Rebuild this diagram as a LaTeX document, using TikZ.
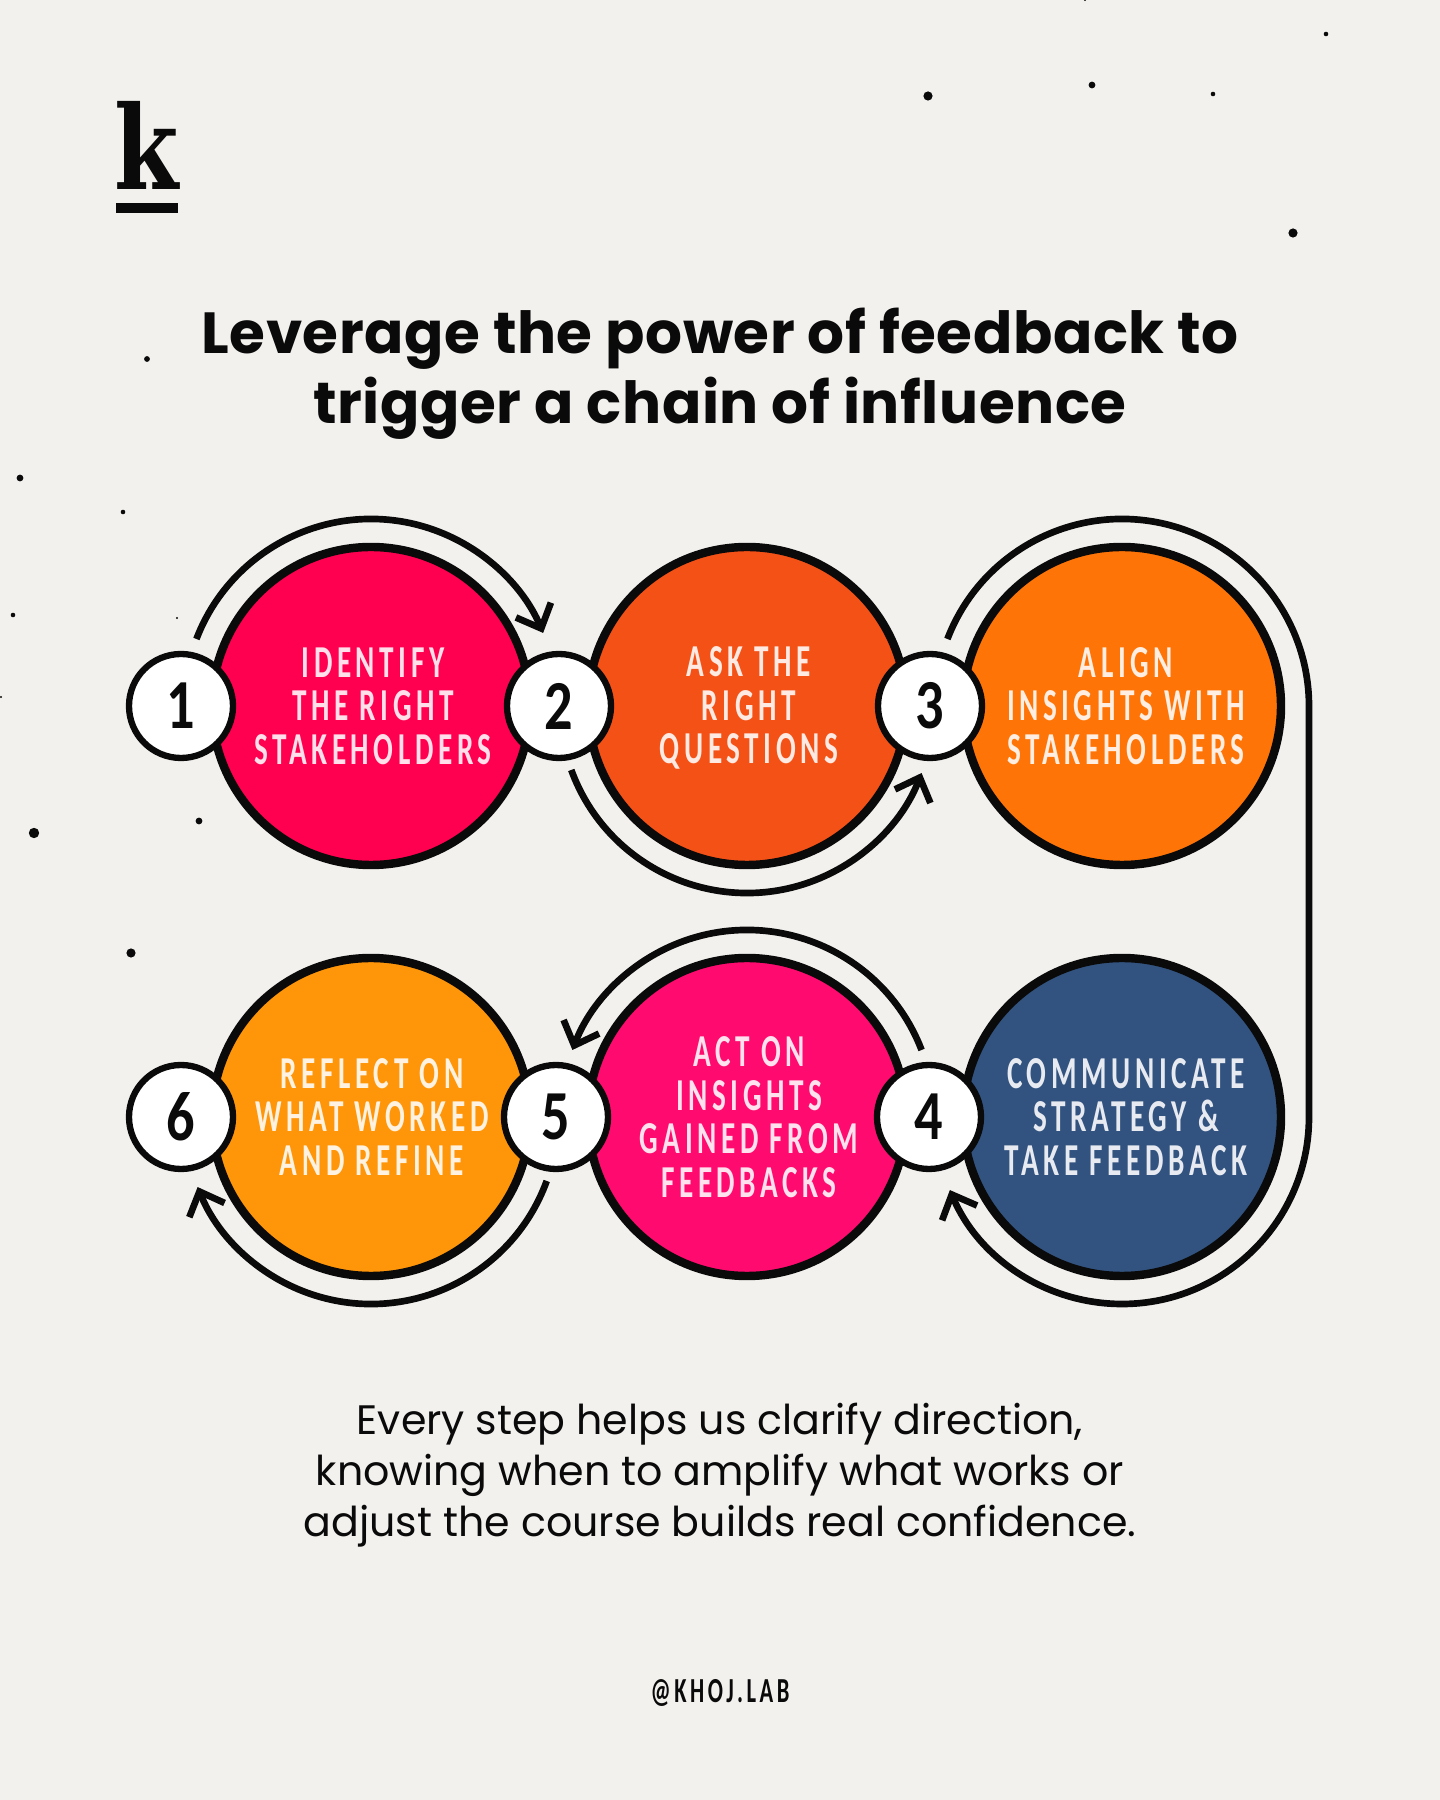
\documentclass[tikz,border=0pt]{standalone}
\usepackage{fontspec}
\setmainfont{Poppins}
\newfontfamily\titlefont[LetterSpace=1]{Poppins}
\newfontfamily\handfont[LetterSpace=10,FakeStretch=0.64]{Carlito}
\newfontfamily\numfont[FakeStretch=0.8]{Carlito}
\newfontfamily\logofont[FakeStretch=0.8]{DejaVu Serif}
\usetikzlibrary{arrows.meta}

\definecolor{paper}{HTML}{F3F1EE}
\definecolor{inkblack}{HTML}{0A0A0A}
\definecolor{stepred}{HTML}{FF0050}
\definecolor{steprust}{HTML}{F45117}
\definecolor{steporange}{HTML}{FF7406}
\definecolor{stepnavy}{HTML}{32537F}
\definecolor{steppink}{HTML}{FF0B6F}
\definecolor{stepamber}{HTML}{FF9508}

\tikzset{
  bigcircle/.style={circle,draw=inkblack,line width=2.4pt,fill=#1,minimum size=3.18cm,inner sep=0pt},
  steptext/.style={text=white!88!#1,align=center,inner sep=0pt,font=\handfont\bfseries\fontsize{13}{12.4}\selectfont},
  numcircle/.style={circle,draw=inkblack,line width=1.8pt,fill=white,text=inkblack,minimum size=1.04cm,
    inner sep=0pt,font=\numfont\bfseries\fontsize{20}{20}\selectfont},
  looparrow/.style={draw=inkblack,line width=1.9pt,-{Straight Barb[length=2mm,width=3.8mm,line width=1.9pt]}}
}

\begin{document}
\begin{tikzpicture}
\useasboundingbox (0,0) rectangle (14.4,18);
\fill[paper] (0,0) rectangle (14.4,18);

\foreach \x/\y/\r in {9.28/17.04/4.6,10.92/17.15/3.4,12.13/17.06/2.3,13.26/17.66/2.3,12.93/15.67/4.6,
  1.47/14.41/2.9,0.2/13.22/3.4,1.23/12.88/2.3,0.13/11.85/2.3,1.77/11.82/1.2,0.01/11.03/1.2,
  1.99/9.79/3.4,0.34/9.67/5.2,1.31/8.47/4.6,10.85/18/1.2}
  \fill[inkblack] (\x,\y) circle (\r*0.01);

\node[inkblack,font=\logofont\bfseries\fontsize{33}{33}\selectfont] (logo) at (1.47,16.55) {k};
\fill[inkblack] (1.16,15.87) rectangle (1.78,15.97);

\node[inkblack,align=center,font=\titlefont\bfseries\fontsize{16.5}{20}\selectfont] (title) at (7.2,14.26) {Leverage the power of feedback to\\trigger a chain of influence};

\node[bigcircle=stepred] (s1) at (3.71,10.94) {};
\node[bigcircle=steprust] (s2) at (7.47,10.94) {};
\node[bigcircle=steporange] (s3) at (11.22,10.94) {};
\node[bigcircle=stepnavy] (s4) at (11.22,6.83) {};
\node[bigcircle=steppink] (s5) at (7.47,6.83) {};
\node[bigcircle=stepamber] (s6) at (3.71,6.83) {};

\node[steptext=stepred] (t1) at (3.73,10.94) {IDENTIFY\\THE RIGHT\\STAKEHOLDERS};
\node[steptext=steprust] (t2) at (7.49,10.92) {ASK THE\\RIGHT\\QUESTIONS};
\node[steptext=steporange] (t3) at (11.26,10.94) {ALIGN\\INSIGHTS WITH\\STAKEHOLDERS};
\node[steptext=stepnavy] (t4) at (11.26,6.83) {COMMUNICATE\\STRATEGY \&\\TAKE FEEDBACK};
\node[steptext=steppink] (t5) at (7.49,6.83) {ACT ON\\INSIGHTS\\GAINED FROM\\FEEDBACKS};
\node[steptext=stepamber] (t6) at (3.72,6.83) {REFLECT ON\\WHAT WORKED\\AND REFINE};

\node[numcircle] (n1) at (1.81,10.94) {1};
\node[numcircle] (n2) at (5.59,10.94) {2};
\node[numcircle] (n3) at (9.30,10.94) {3};
\node[numcircle] (n4) at (9.29,6.83) {4};
\node[numcircle] (n5) at (5.56,6.83) {5};
\node[numcircle] (n6) at (1.81,6.83) {6};

\coordinate (a1) at ([shift={(159:1.87)}]s1);
\coordinate (a2) at ([shift={(200:1.87)}]s2);
\coordinate (a3) at ([shift={(159:1.87)}]s3);
\coordinate (a4) at ([shift={(21:1.87)}]s5);
\coordinate (a5) at ([shift={(-20:1.87)}]s6);

\draw[looparrow] (a1) arc[start angle=159,end angle=23,radius=1.87];
\draw[looparrow] (a2) arc[start angle=200,end angle=339,radius=1.87];
\draw[looparrow] (a3) arc[start angle=159,end angle=0,radius=1.87] -- ++(0,-4.11) arc[start angle=0,end angle=-157,radius=1.87];
\draw[looparrow] (a4) arc[start angle=21,end angle=159,radius=1.87];
\draw[looparrow] (a5) arc[start angle=-20,end angle=-158,radius=1.87];

\node[inkblack,align=center,font=\fontsize{11.7}{14.5}\selectfont] (closing) at (7.2,3.25) {Every step helps us clarify direction,\\knowing when to amplify what works or\\adjust the course builds real confidence.};

\node[inkblack,font=\handfont\bfseries\fontsize{10}{11}\selectfont] (handle) at (7.2,1.07) {@KHOJ.LAB};
\end{tikzpicture}
\end{document}
